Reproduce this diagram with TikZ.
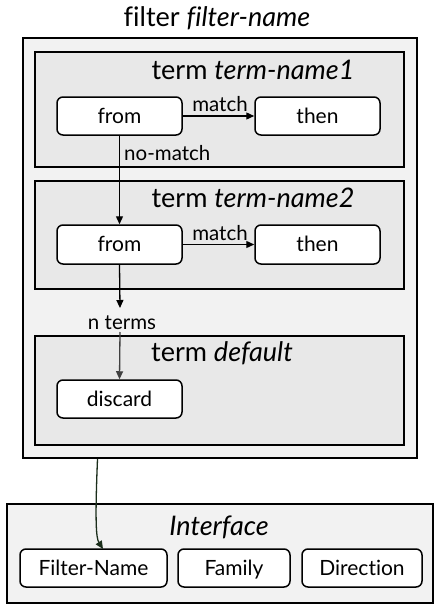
\documentclass[tikz,border=0pt]{standalone}
\usepackage{fontspec}
\setmainfont{Lato}[Ligatures=NoCommon]
\usetikzlibrary{arrows.meta}
\definecolor{darkgreen}{HTML}{1B2E1B}
\begin{document}
\begin{tikzpicture}[x=1pt,y=-1pt,
  container/.style={draw=black,line width=1.7pt},
  outerfill/.style={fill=black!5},
  termfill/.style={fill=black!9},
  bx/.style={draw=black,line width=1.5pt,fill=white,rounded corners=6pt,inner sep=0pt,text height=18pt,text depth=4pt,font=\fontsize{21}{24}\selectfont},
  ttl/.style={font=\fontsize{27}{31}\selectfont,inner sep=0pt},
  lbl/.style={font=\fontsize{20.5}{23}\selectfont,inner sep=0pt},
  arr/.style={line width=1.3pt,-{Triangle[length=8pt,width=7pt]}},
]
\useasboundingbox (0,0) rectangle (441,610);
\fill[white] (0,0) rectangle (441,610);
% outer filter box
\draw[container,outerfill] (23,38) rectangle (417,458);
\node[ttl] (ftitle) at (217,18) {filter \textit{filter-name}};
% term boxes
\draw[container,termfill] (35,52) rectangle (404,167);
\draw[container,termfill] (35,181) rectangle (404,289);
\draw[container,termfill] (35,336) rectangle (404,445);
\node[ttl] (t1title) at (253,70) {term \textit{term-name1}};
\node[ttl] (t2title) at (253,198) {term \textit{term-name2}};
\node[ttl] (t3title) at (222,353) {term \textit{default}};
% nodes
\node[bx,minimum width=125pt,minimum height=38pt] (from1) at (119.5,116) {from};
\node[bx,minimum width=125pt,minimum height=38pt] (then1) at (317.5,116) {then};
\node[bx,minimum width=125pt,minimum height=39pt] (from2) at (119.5,244.5) {from};
\node[bx,minimum width=125pt,minimum height=39pt] (then2) at (317.5,244.5) {then};
\node[bx,minimum width=125pt,minimum height=38pt] (discard) at (119.5,399) {discard};
% interface
\draw[container,outerfill] (7,504) rectangle (433,603);
\node[ttl] (iftitle) at (219,527) {\textit{Interface}};
\node[bx,minimum width=147pt,minimum height=38pt] (fname) at (93.5,568) {Filter-Name};
\node[bx,minimum width=112pt,minimum height=38pt] (family) at (234,568) {Family};
\node[bx,minimum width=120pt,minimum height=38pt] (dir) at (362,568) {Direction};
% connectors
\draw[arr] (from1.east) -- (then1.west);
\node[lbl] (m1) at (220,104) {match};
\draw[arr] (from1.south) -- (from2.north);
\node[lbl,anchor=west] (nm) at (124,153) {no-match};
\draw[arr] (from2.east) -- (then2.west);
\node[lbl] (m2) at (220,233) {match};
\coordinate (nt1) at (120,308);
\draw[arr] (from2.south) -- (nt1);
\node[lbl] (nterms) at (122,323) {n terms};
\coordinate (nt2) at (120,332);
\draw[arr,draw=black!75,fill=black!75] (nt2) -- (discard.north);
\coordinate (fb) at (97.5,459);
\draw[line width=1.3pt,draw=darkgreen,-{Triangle[length=8pt,width=7pt]}] (fb) .. controls (95,520) and (96,538) .. (103,549);
\end{tikzpicture}
\end{document}
